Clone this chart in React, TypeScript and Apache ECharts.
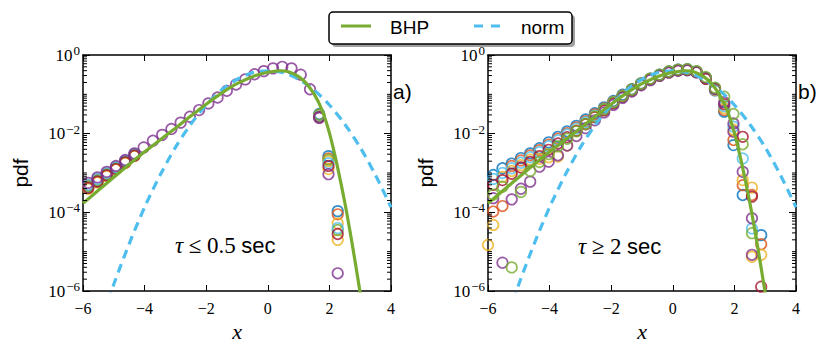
import React, { useEffect, useRef } from "react";
import * as echarts from "echarts";

// ---------- colours ----------
const BLUE = "#0072BD";
const RED = "#D95319";
const YELLOW = "#EDB120";
const PURPLE = "#7E2F8E";
const GREEN = "#77AC30";
const CYAN = "#4DBEEE";
const DARKRED = "#A2142F";

// ---------- axis ticks ----------
const xTickStep = 2;
const yLabelDecades = [1e-6, 1e-4, 1e-2, 1];
const minorMultipliers = [2, 3, 4, 5, 6, 7, 8, 9];
const minorDecades = [1e-6, 1e-5, 1e-4, 1e-3, 1e-2, 1e-1];

// ---------- panel a) (tau <= 0.5 sec), values are log10(pdf) ----------
const binsLeft = [-5.83, -5.53, -5.23, -4.93, -4.63, -4.33, -4.03, -3.73, -3.43, -3.13, -2.83, -2.53, -2.23, -1.93, -1.63, -1.33, -1.03, -0.73, -0.43, -0.13, 0.17, 0.47, 0.77, 1.07, 1.37, 1.67, 1.97, 2.27];
const leftPurple = [-3.25, -3.11, -2.97, -2.82, -2.67, -2.5, -2.35, -2.18, -2.03, -1.88, -1.72, -1.57, -1.4, -1.23, -1.08, -0.91, -0.75, -0.62, -0.49, -0.41, -0.34, -0.3, -0.34, -0.5, -0.87, -1.6, -3.03, -5.55];
const leftHeadBins = [-5.83, -5.53, -5.23, -4.93, -4.63, -4.33];
const leftTailBins = [1.67, 1.97, 2.27];
const leftBlueHead = [-3.36, -3.21, -3.05, -2.89, -2.73, -2.55];
const leftBlueTail = [-1.5, -2.57, -3.97];
const leftRedHead = [-3.32, -3.17, -3.02, -2.86, -2.7, -2.53];
const leftRedTail = [-1.53, -2.63, -4.05];
const leftYellowHead = [-3.4, -3.24, -3.08, -2.91, -2.75, -2.57];
const leftYellowTail = [-1.55, -2.7, -4.28];
const leftGreenHead = [-3.34, -3.19, -3.03, -2.87, -2.71, -2.54];
const leftGreenTail = [-1.52, -2.66, -4.45];
const leftCyanHead = [-3.3, -3.15, -3.0, -2.85, -2.69, -2.52];
const leftCyanTail = [-1.56, -2.75, -4.4];
const leftDarkredHead = [-3.38, -3.22, -3.06, -2.9, -2.73, -2.56];
const leftDarkredTail = [-1.58, -2.82, -4.55];
const leftExtraYellow = [[2.27, -4.7], [1.97, -2.9]];

// ---------- panel b) (tau >= 2 sec) ----------
const binsRight = [-5.83, -5.53, -5.23, -4.93, -4.63, -4.33, -4.03, -3.73, -3.43, -3.13, -2.83, -2.53, -2.23, -1.93, -1.63, -1.33, -1.03, -0.73, -0.43, -0.13, 0.17, 0.47, 0.77, 1.07, 1.37, 1.67, 1.97, 2.27, 2.57, 2.87];
const rightBlue = [-3.05, -2.88, -2.76, -2.62, -2.5, -2.37, -2.22, -2.08, -1.94, -1.8, -1.64, -1.48, -1.33, -1.17, -1.01, -0.87, -0.72, -0.6, -0.5, -0.42, -0.37, -0.36, -0.42, -0.6, -0.9, -1.44, -2.29, -3.56, null, -4.58];
const rightRed = [-3.98, -3.84, -2.82, -2.68, -2.55, -2.42, -2.28, -2.13, -1.99, -1.84, -1.68, -1.51, -1.36, -1.19, -1.03, -0.88, -0.73, -0.61, -0.51, -0.43, -0.38, -0.37, -0.43, -0.6, -0.88, -1.4, -2.16, -3.31, -3.56, -4.81];
const rightYellow = [-4.32, -3.1, -2.95, -2.8, -2.66, -2.64, -2.6, -2.58, -2.3, -1.92, -1.75, -1.57, -1.4, -1.22, -1.06, -0.9, -0.75, -0.62, -0.52, -0.44, -0.39, -0.38, -0.43, -0.59, -0.88, -1.35, -1.9, -3.18, -3.37, -5.08];
const rightCyan = [-3.15, -3.0, -2.88, -2.74, -2.6, -2.47, -2.32, -2.17, -2.02, -1.87, -1.71, -1.54, -1.38, -1.2, -1.04, -0.89, -0.74, -0.61, -0.51, -0.43, -0.38, -0.37, -0.43, -0.58, -0.87, -1.3, -1.82, -2.63, -4.41, null];
const rightDarkred = [-3.3, -3.18, -3.02, -2.86, -2.72, -2.57, -2.41, -2.25, -2.09, -1.93, -1.76, -1.58, -1.41, -1.23, -1.06, -0.9, -0.75, -0.62, -0.52, -0.44, -0.39, -0.38, -0.44, -0.6, -0.86, -1.25, null, -2.08, -3.6, -5.89];
const rightPurple = [-3.64, -5.28, -3.67, -3.4, -3.22, -2.84, -2.71, -2.55, -2.3, -2.06, -1.86, -1.66, -1.46, -1.27, -1.09, -0.93, -0.77, -0.64, -0.53, -0.45, -0.4, -0.39, -0.44, -0.58, -0.85, -1.2, -1.74, -2.97, -4.15, null];
const rightGreen = [-3.55, -3.35, -5.4, -3.48, -2.95, -2.72, -2.52, -2.32, -2.13, -1.94, -1.75, -1.56, -1.38, -1.2, -1.04, -0.88, -0.73, -0.6, -0.5, -0.42, -0.37, -0.36, -0.41, -0.56, -0.83, -1.06, -1.5, -2.27, -4.53, null];
const rightExtraYellow = [[-6.0, -4.83], [2.57, -5.13]];
const rightExtraPurple = [[1.97, -1.95], [2.57, -5.08]];

// ---------- fitted curves (log10 pdf) ----------
const bhpX = [-6, -5.5, -5, -4.5, -4, -3.5, -3, -2.5, -2, -1.5, -1, -0.5, 0, 0.4, 0.7, 1.0, 1.25, 1.5, 1.75, 2.0, 2.25, 2.5, 2.75, 3.0];
const bhpLog = [-3.77, -3.44, -3.11, -2.78, -2.46, -2.16, -1.86, -1.55, -1.25, -0.97, -0.73, -0.55, -0.44, -0.4, -0.43, -0.55, -0.72, -0.99, -1.38, -1.98, -2.8, -3.75, -4.85, -6.05];
const normX = [-5.5, -5, -4.5, -4, -3.5, -3, -2.5, -2, -1.5, -1, -0.5, 0, 0.5, 1, 1.5, 2, 2.5, 3, 3.5, 4];
const normLog = [-6.97, -5.83, -4.8, -3.87, -3.06, -2.35, -1.76, -1.27, -0.89, -0.62, -0.45, -0.4, -0.45, -0.62, -0.89, -1.27, -1.76, -2.35, -3.06, -3.87];

// log10 reading -> pdf value
const pts = (bins: number[], lg: (number | null)[]) => {
  const out: number[][] = [];
  bins.forEach((x, i) => {
    const v = lg[i];
    if (v !== null && v !== undefined) out.push([x, Math.pow(10, v)]);
  });
  return out;
};
const pairs = (p: number[][]) => p.map(([x, v]) => [x, Math.pow(10, v)]);

// minor tick positions k * 10^n plus the unlabelled odd decades
const minorTickData: number[][] = [];
minorDecades.forEach((d) => minorMultipliers.forEach((k) => minorTickData.push([-6, k * d])));
[1e-5, 1e-3, 1e-1].forEach((d) => minorTickData.push([-6, d]));

const BLACK = "#000";
const SERIF = "'Liberation Serif', 'DejaVu Serif', serif";
const SANS = "'Liberation Sans', Arial, sans-serif";

const fmtX = (v: number) => (v < 0 ? "\u2212" + Math.abs(v) : String(v));
const fmtY = (v: number) => {
  const e = Math.round(Math.log10(v));
  return `{b|10}{s|${e < 0 ? "\u2212" + Math.abs(e) : e}}`;
};

function xAxes(g: number) {
  const common = {
    type: "value",
    gridIndex: g,
    min: -6,
    max: 4,
    interval: xTickStep,
    splitLine: { show: false },
    axisLine: { show: true, onZero: false, lineStyle: { color: BLACK, width: 1.5 } },
    axisTick: { show: true, inside: true, length: 6, lineStyle: { color: BLACK, width: 1 } },
  };
  return [
    {
      ...common,
      position: "bottom",
      axisLabel: { formatter: fmtX, fontFamily: SERIF, fontSize: 16, color: BLACK, margin: 9 },
      name: "x",
      nameLocation: "middle",
      nameGap: 26,
      nameTextStyle: { fontFamily: SERIF, fontStyle: "italic", fontSize: 22, color: BLACK },
    },
    { ...common, position: "top", axisLabel: { show: false } },
  ];
}

function yAxes(g: number) {
  const main = {
    type: "log",
    gridIndex: g,
    min: 1e-6,
    max: 1,
    logBase: 10,
    splitLine: { show: false },
    minorTick: { show: false },
    axisLine: { show: true, onZero: false, lineStyle: { color: BLACK, width: 1.5 } },
    axisTick: { show: true, inside: true, length: 7, customValues: yLabelDecades, lineStyle: { color: BLACK, width: 1 } },
  };
  return [
    {
      ...main,
      position: "left",
      axisLabel: {
        customValues: yLabelDecades,
        formatter: fmtY,
        margin: 3,
        color: BLACK,
        rich: {
          b: { fontFamily: SERIF, fontSize: 17, color: BLACK },
          s: { fontFamily: SERIF, fontSize: 13, color: BLACK, verticalAlign: "top", padding: [0, 0, 9, 1] },
        },
      },
      name: "pdf",
      nameLocation: "middle",
      nameRotate: 90,
      nameGap: 52,
      nameTextStyle: { fontFamily: SANS, fontSize: 21, color: BLACK },
    },
    { ...main, position: "right", axisLabel: { show: false } },
  ];
}

// minor ticks on both vertical frame edges, placed with the log axis scale
const minorTicks = (g: number) => ({
  type: "custom",
  xAxisIndex: g * 2,
  yAxisIndex: g * 2,
  data: minorTickData,
  silent: true,
  clip: false,
  z: 10,
  renderItem: (_p: any, api: any) => {
    const l = api.coord([-6, api.value(1)]);
    const r = api.coord([4, api.value(1)]);
    return {
      type: "group",
      children: [
        { type: "line", shape: { x1: l[0], y1: l[1], x2: l[0] + 4, y2: l[1] }, style: { stroke: BLACK, lineWidth: 1 } },
        { type: "line", shape: { x1: r[0] - 4, y1: r[1], x2: r[0], y2: r[1] }, style: { stroke: BLACK, lineWidth: 1 } },
      ],
    };
  },
});

const sc = (color: string, data: number[][], g: number) => ({
  type: "scatter",
  xAxisIndex: g * 2,
  yAxisIndex: g * 2,
  data,
  symbol: "circle",
  symbolSize: 10.5,
  silent: true,
  itemStyle: { color: "rgba(0,0,0,0)", borderColor: color, borderWidth: 1.7 },
});

const lines = (g: number) => [
  {
    type: "line",
    name: "norm",
    xAxisIndex: g * 2,
    yAxisIndex: g * 2,
    data: pts(normX, normLog),
    symbol: "none",
    smooth: 0.3,
    silent: true,
    z: 5,
    lineStyle: { color: CYAN, width: 3.2, type: [9, 6] },
  },
  {
    type: "line",
    name: "BHP",
    xAxisIndex: g * 2,
    yAxisIndex: g * 2,
    data: pts(bhpX, bhpLog),
    symbol: "none",
    smooth: 0.3,
    silent: true,
    z: 6,
    lineStyle: { color: GREEN, width: 3.2 },
  },
];

export default function App() {
  const ref = useRef<HTMLDivElement>(null);
  useEffect(() => {
    if (!ref.current) return;
    const chart = echarts.init(ref.current, undefined, { renderer: "svg" });
    const series = [
      // panel a
      sc(BLUE, [...pts(leftHeadBins, leftBlueHead), ...pts(leftTailBins, leftBlueTail)], 0),
      sc(RED, [...pts(leftHeadBins, leftRedHead), ...pts(leftTailBins, leftRedTail)], 0),
      sc(YELLOW, [...pts(leftHeadBins, leftYellowHead), ...pts(leftTailBins, leftYellowTail), ...pairs(leftExtraYellow)], 0),
      sc(GREEN, [...pts(leftHeadBins, leftGreenHead), ...pts(leftTailBins, leftGreenTail)], 0),
      sc(CYAN, [...pts(leftHeadBins, leftCyanHead), ...pts(leftTailBins, leftCyanTail)], 0),
      sc(DARKRED, [...pts(leftHeadBins, leftDarkredHead), ...pts(leftTailBins, leftDarkredTail)], 0),
      sc(PURPLE, pts(binsLeft, leftPurple), 0),
      ...lines(0),
      minorTicks(0),
      // panel b
      sc(BLUE, pts(binsRight, rightBlue), 1),
      sc(RED, pts(binsRight, rightRed), 1),
      sc(YELLOW, [...pts(binsRight, rightYellow), ...pairs(rightExtraYellow)], 1),
      sc(CYAN, pts(binsRight, rightCyan), 1),
      sc(DARKRED, pts(binsRight, rightDarkred), 1),
      sc(PURPLE, [...pts(binsRight, rightPurple), ...pairs(rightExtraPurple)], 1),
      sc(GREEN, pts(binsRight, rightGreen), 1),
      ...lines(1),
      minorTicks(1),
    ];
    const tauRich = {
      t: { fontFamily: SERIF, fontStyle: "italic", fontSize: 23, fill: BLACK },
      o: { fontFamily: SERIF, fontSize: 23, fill: BLACK },
      s: { fontFamily: SANS, fontSize: 22, fill: BLACK },
    };
    chart.setOption({
      animation: false,
      backgroundColor: "#fff",
      grid: [
        { left: 83, top: 55, width: 308, height: 236, containLabel: false },
        { left: 488, top: 55, width: 308, height: 236, containLabel: false },
      ],
      xAxis: [...xAxes(0), ...xAxes(1)],
      yAxis: [...yAxes(0), ...yAxes(1)],
      series,
      graphic: [
        { type: "rect", shape: { x: 332, y: 15, width: 243, height: 32, r: 4 }, style: { fill: "#a0a0a0" }, z: 100 },
        { type: "rect", shape: { x: 329, y: 12, width: 243, height: 32, r: 4 }, style: { fill: "#fff", stroke: BLACK, lineWidth: 1.5 }, z: 101 },
        { type: "line", shape: { x1: 341, y1: 26, x2: 371, y2: 26 }, style: { stroke: GREEN, lineWidth: 3 }, z: 102 },
        { type: "text", x: 390, y: 27, style: { text: "BHP", font: `19px ${SANS}`, fill: BLACK, verticalAlign: "middle" }, z: 102 },
        { type: "line", shape: { x1: 474, y1: 26, x2: 501, y2: 26 }, style: { stroke: CYAN, lineWidth: 3, lineDash: [9, 8] }, z: 102 },
        { type: "text", x: 521, y: 27, style: { text: "norm", font: `19px ${SANS}`, fill: BLACK, verticalAlign: "middle" }, z: 102 },
        { type: "text", x: 393, y: 91, style: { text: "a)", font: `21px ${SANS}`, fill: BLACK, verticalAlign: "middle" }, z: 102 },
        { type: "text", x: 798, y: 91, style: { text: "b)", font: `21px ${SANS}`, fill: BLACK, verticalAlign: "middle" }, z: 102 },
        { type: "text", x: 175, y: 245, style: { text: "{t|τ} {o|≤ 0.5} {s|sec}", rich: tauRich, font: `22px ${SERIF}`, fill: BLACK, verticalAlign: "middle" }, z: 102 },
        { type: "text", x: 578, y: 246, style: { text: "{t|τ} {o|≥ 2} {s|sec}", rich: tauRich, font: `22px ${SERIF}`, fill: BLACK, verticalAlign: "middle" }, z: 102 },
      ],
    });
    return () => chart.dispose();
  }, []);
  return <div ref={ref} style={{ position: "fixed", left: 0, top: 0, width: 830, height: 356, background: "#fff" }} />;
}
